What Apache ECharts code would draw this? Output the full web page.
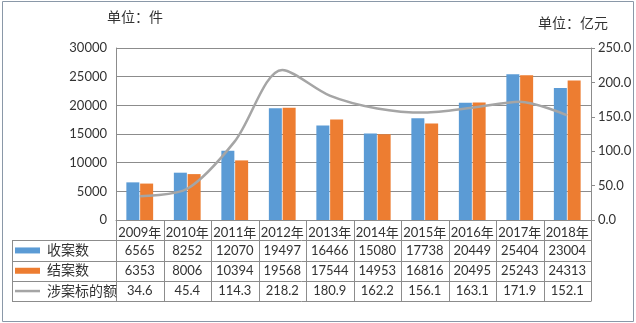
<!DOCTYPE html>
<html><head><meta charset="utf-8">
<script src="https://cdn.jsdelivr.net/npm/echarts@6/dist/echarts.min.js"></script>
<style>html,body{margin:0;padding:0;background:#fff}#c{width:636px;height:323px}</style>
</head><body><div id="c"></div>
<script>
var categories = ['2009年','2010年','2011年','2012年','2013年','2014年','2015年','2016年','2017年','2018年'];
var receivedCases = [6565, 8252, 12070, 19497, 16466, 15080, 17738, 20449, 25404, 23004];
var closedCases = [6353, 8006, 10394, 19568, 17544, 14953, 16816, 20495, 25243, 24313];
var amount = [34.6, 45.4, 114.3, 218.2, 180.9, 162.2, 156.1, 163.1, 171.9, 152.1];
var amountLabels = ['34.6','45.4','114.3','218.2','180.9','162.2','156.1','163.1','171.9','152.1'];
var seriesNames = ['收案数','结案数','涉案标的额'];
var leftUnit = '单位：件';
var rightUnit = '单位：亿元';

var FONT = "Lato, 'Noto Sans CJK SC', sans-serif";
var BLUE = '#5B9BD5', ORANGE = '#ED7D31', GREY = '#A5A5A5';
var LINEC = '#8c8c8c';
var G = {left:116, right:45, top:48, bottom:103};

var chart = echarts.init(document.getElementById('c'));
chart.setOption({
  animation:false,
  grid:{left:G.left, right:G.right, top:G.top, bottom:G.bottom},
  xAxis:{type:'category', data:categories,
    axisLine:{show:true, lineStyle:{color:LINEC}}, axisTick:{show:false},
    axisLabel:{show:true, interval:0, color:'#333', fontSize:13, fontFamily:FONT, margin:6}},
  yAxis:[
    {type:'value', min:0, max:30000, interval:5000,
      axisLine:{show:true, lineStyle:{color:LINEC}}, axisTick:{show:false},
      axisLabel:{color:'#333', fontSize:13, fontFamily:FONT, margin:9, formatter:function(v){return String(v);}},
      splitLine:{lineStyle:{color:LINEC, width:1}}},
    {type:'value', min:0, max:250, interval:50, position:'right',
      axisLine:{show:true, lineStyle:{color:LINEC}}, axisTick:{show:true, inside:false, length:4, lineStyle:{color:LINEC}},
      axisLabel:{color:'#333', fontSize:13, fontFamily:FONT, margin:7, formatter:function(v){return v.toFixed(1);}},
      splitLine:{show:false}}
  ],
  series:[
    {name:seriesNames[0], type:'bar', data:receivedCases, barWidth:13, barGap:'6%', itemStyle:{color:BLUE}},
    {name:seriesNames[1], type:'bar', data:closedCases, barWidth:13, itemStyle:{color:ORANGE}},
    {name:seriesNames[2], type:'line', yAxisIndex:1, data:amount, smooth:0.3, symbol:'none',
      lineStyle:{color:GREY, width:2.5}, z:5}
  ]
});

var W = 636, H = 323;
var x0 = G.left, x1 = W - G.right, yAxisY = H - G.bottom;
var rowH = 20.3;
var rowTop = [yAxisY + rowH, yAxisY + 2*rowH, yAxisY + 3*rowH];
var tableBottom = yAxisY + 4*rowH;
var tableLeft = 12;
var n = categories.length;
var cw = (x1 - x0) / n;
var gfx = [];
var ls = {stroke:LINEC, lineWidth:1};
gfx.push({type:'rect', shape:{x:2.5, y:1.5, width:631, height:320}, style:{fill:null, stroke:'#8a98a8', lineWidth:1}, silent:true});
for (var r=0; r<4; r++) {
  var yy = Math.round(rowTop[0] + r*rowH) + 0.5;
  if (r==3) yy = Math.round(tableBottom)+0.5;
  gfx.push({type:'line', shape:{x1:tableLeft, y1:yy, x2:x1, y2:yy}, style:ls, silent:true});
}
gfx.push({type:'line', shape:{x1:tableLeft+0.5, y1:Math.round(rowTop[0])+0.5, x2:tableLeft+0.5, y2:Math.round(tableBottom)+0.5}, style:ls, silent:true});
for (var i=0; i<=n; i++) {
  var xx = Math.round(x0 + i*cw) + 0.5;
  gfx.push({type:'line', shape:{x1:xx, y1:yAxisY, x2:xx, y2:Math.round(tableBottom)+0.5}, style:ls, silent:true});
}
var rows = [receivedCases.map(String), closedCases.map(String), amountLabels];
for (var r=0; r<3; r++) {
  var cy = rowTop[0] + r*rowH + rowH/2;
  for (var i=0; i<n; i++) {
    gfx.push({type:'text', x:x0 + (i+0.5)*cw, y:cy, silent:true,
      style:{text:rows[r][i], fill:'#333', font:'13px '+FONT, textAlign:'center', textVerticalAlign:'middle'}});
  }
  gfx.push({type:'text', x:47, y:cy, silent:true,
    style:{text:seriesNames[r], fill:'#333', font:'14px '+FONT, textAlign:'left', textVerticalAlign:'middle'}});
}
gfx.push({type:'rect', shape:{x:15, y:rowTop[0]+rowH/2-3, width:25, height:6}, style:{fill:BLUE}, silent:true});
gfx.push({type:'rect', shape:{x:15, y:rowTop[1]+rowH/2-3, width:25, height:6}, style:{fill:ORANGE}, silent:true});
gfx.push({type:'line', shape:{x1:15, y1:rowTop[2]+rowH/2, x2:40, y2:rowTop[2]+rowH/2}, style:{stroke:GREY, lineWidth:2.5}, silent:true});
gfx.push({type:'text', x:107, y:17, silent:true, style:{text:leftUnit, fill:'#333', font:'14px '+FONT, textAlign:'left', textVerticalAlign:'middle'}});
gfx.push({type:'text', x:538, y:23, silent:true, style:{text:rightUnit, fill:'#333', font:'14px '+FONT, textAlign:'left', textVerticalAlign:'middle'}});
chart.setOption({graphic:gfx});
</script></body></html>
